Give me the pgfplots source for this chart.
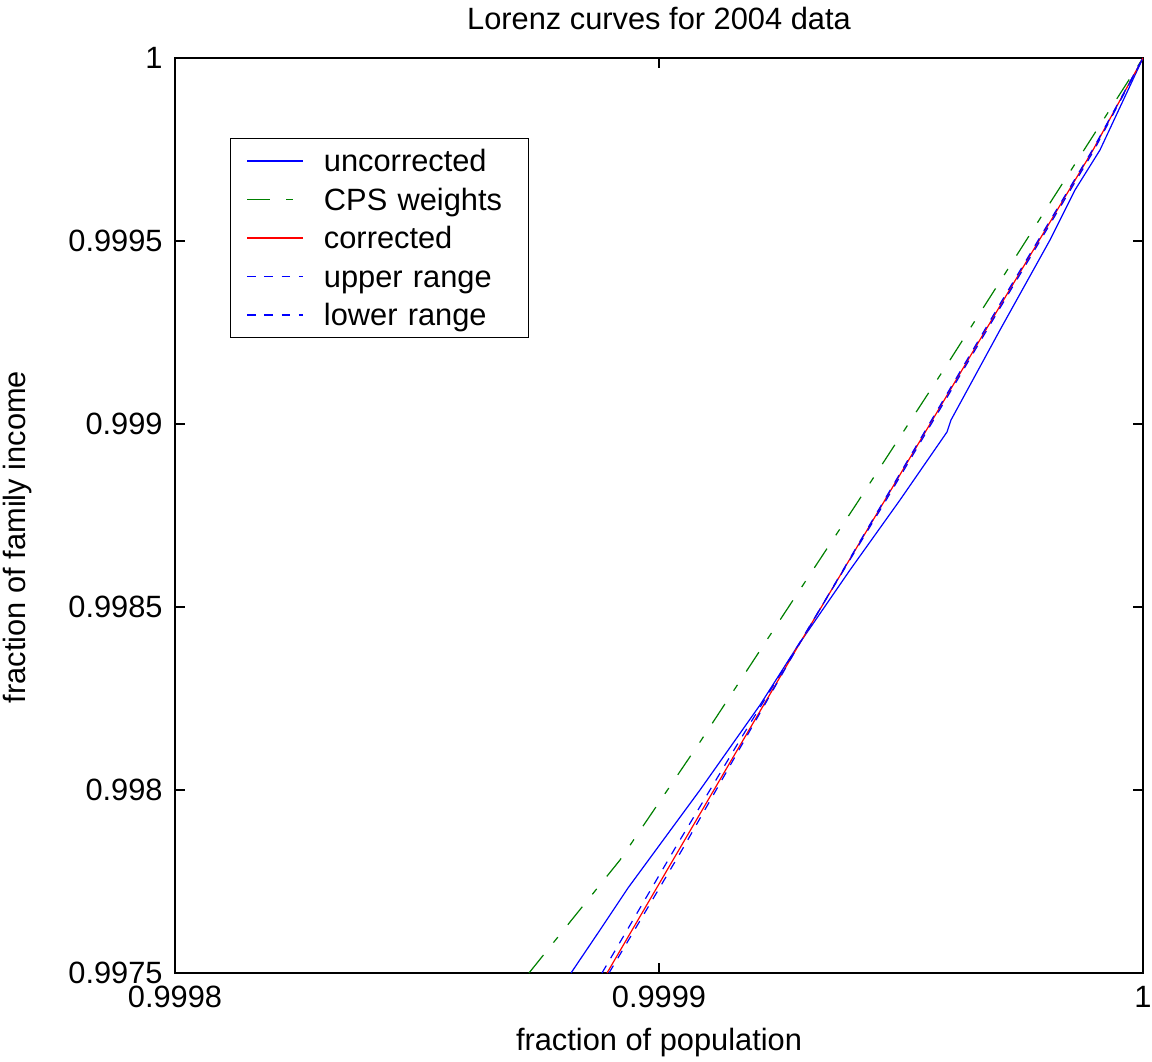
\documentclass[border=0pt]{standalone}
\usepackage{fontspec}
\setmainfont{Liberation Sans}
\usepackage{pgfplots}
\pgfplotsset{compat=1.18}
\newcommand{\lfont}{\fontsize{15.4}{18}\selectfont}
\definecolor{mgreen}{rgb}{0,0.5,0}
% x values are stored as (fraction of population - 0.9998) x 10^6
\begin{document}
\begin{tikzpicture}
\path[use as bounding box] (-87.5pt,-44pt) rectangle (488.5pt,486.5pt);
\begin{axis}[
  at={(0,0)}, anchor=south west,
  scale only axis, width=484pt, height=457.5pt,
  xmin=0, xmax=200, ymin=0.9975, ymax=1,
  xtick={0,100,200}, xticklabels={0.9998,0.9999,1},
  ytick={0.9975,0.998,0.9985,0.999,0.9995,1},
  yticklabels={0.9975,0.998,0.9985,0.999,0.9995,1},
  /pgf/number format/assume math mode=true,
  tick align=inside, xtick pos=both, ytick pos=both,
  major tick length=5pt,
  every tick/.style={black, line width=0.8pt},
  axis line style={line width=1pt},
  tick label style={font=\lfont},
  xticklabel style={anchor=base, inner sep=0pt, yshift=-17pt},
  yticklabel style={anchor=east, inner sep=0pt, xshift=-6pt},
  title={Lorenz curves for 2004 data},
  title style={font=\lfont, at={(axis description cs:0.5,1)}, anchor=base, inner sep=0pt, yshift=8pt},
  xlabel={fraction of population},
  xlabel style={font=\lfont, at={(axis description cs:0.5,0)}, anchor=base, inner sep=0pt, yshift=-38.5pt},
  ylabel={fraction of family income},
  ylabel style={font=\lfont, at={(axis description cs:-0.1540,0.4765)}, anchor=base, inner sep=0pt},
  legend cell align=left,
  legend image code/.code={\draw[#1, line width=0.8pt] (0pt,0pt) -- (28pt,0pt);},
  legend style={font=\lfont, at={(axis description cs:0.0568,0.9126)}, anchor=north west,
    draw=black, inner xsep=8pt, inner ysep=1.75pt, column sep=10pt, row sep=0pt,
    nodes={inner sep=0pt, text height=15pt, text depth=4.25pt, text width=94pt, align=left}},
]
\addplot[blue, line width=0.6pt] table {
x y
81.82 0.9975
87.81 0.9976175
93.59 0.9977322
108.47 0.9980000
120.87 0.9982322
128.51 0.9983907
139.46 0.9986011
149.79 0.9987923
159.50 0.9989781
160.33 0.9990109
170.45 0.9992568
180.78 0.9995027
185.95 0.9996393
191.11 0.9997486
200 1.0
};
\addlegendentry{uncorrected}
\addplot[mgreen, line width=0.6pt, dash pattern=on 11.5pt off 8pt on 3.5pt off 8pt] table {
x y
73.14 0.9975
81.61 0.9976393
91.95 0.9978088
108.47 0.9981311
125.00 0.9984645
140.91 0.9987841
160.12 0.9991748
180.78 0.9996038
200 1.0
};
\addlegendentry{CPS weights}
\addplot[red, line width=0.6pt] table {
x y
89.26 0.9975
104.34 0.9978415
128.51 0.9983880
146.69 0.9987923
170.45 0.9993224
189.67 0.9997486
200 1.0
};
\addlegendentry{corrected}
\addplot[blue, line width=0.6pt, dash pattern=on 4.3pt off 4.3pt] table {
x y
88.22 0.9975
103.10 0.9978361
116.73 0.9981366
128.51 0.9983907
146.69 0.9987869
170.45 0.9993169
189.67 0.9997431
200 1.0
};
\addlegendentry{upper range}
\addplot[blue, line width=0.6pt, dash pattern=on 4.3pt off 4.3pt] table {
x y
89.67 0.9975
104.75 0.9978361
128.51 0.9983880
146.69 0.9987951
170.45 0.9993279
189.67 0.9997513
200 1.0
};
\addlegendentry{lower range}
\end{axis}
\end{tikzpicture}
\end{document}
